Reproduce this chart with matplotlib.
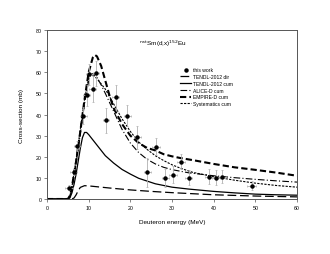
import numpy as np
import matplotlib
matplotlib.use("Agg")
import matplotlib.pyplot as plt
from matplotlib.lines import Line2D

plt.rcParams["font.family"] = ["Liberation Sans", "DejaVu Sans"]

# measured points (this work)
e_exp = [5.3, 6.4, 7.2, 8.7, 9.5, 10.2, 11.0, 11.8, 14.2, 16.5, 19.3,
         21.7, 24.1, 26.2, 28.4, 30.3, 32.2, 34.0, 39.0, 40.6, 41.9, 49.1]
s_exp = [5.4, 12.8, 25.0, 39.5, 49.0, 59.0, 52.0, 59.5, 37.2, 48.2, 39.5,
         29.2, 12.6, 24.8, 9.8, 11.5, 17.6, 10.0, 10.6, 10.1, 10.6, 6.3]
ds_exp = [1.0, 1.5, 2.5, 4.0, 5.0, 5.0, 6.0, 6.0, 6.0, 6.0, 5.0,
          5.5, 7.0, 4.0, 4.2, 4.0, 3.5, 3.5, 3.4, 3.4, 3.0, 2.0]
de_exp = [0.9, 0.8, 0.8, 0.8, 0.8, 0.8, 0.8, 0.8, 0.8, 0.8, 0.9,
          0.9, 0.9, 0.9, 0.9, 0.9, 0.9, 0.9, 1.0, 1.0, 1.0, 1.0]

# model curves
e_tdir = [0, 5, 6, 6.5, 7, 7.5, 8, 9, 10, 12, 15, 20, 25, 30, 35, 40, 45, 50, 55, 60]
s_tdir = [0, 0, 0, 0.5, 2.0, 4.0, 5.5, 6.3, 6.2, 5.8, 5.2, 4.3, 3.6, 3.0, 2.5, 2.0, 1.7, 1.4, 1.2, 1.0]

e_tcum = [0, 5, 5.5, 6, 6.5, 7, 7.5, 8, 8.5, 9, 9.5, 10, 11, 12, 14, 16, 18, 20, 22,
          26, 30, 34, 40, 45, 50, 55, 60]
s_tcum = [0, 0, 0.5, 3.0, 7.0, 12.0, 18.0, 24.0, 29.0, 31.5, 31.5, 30.5, 28.0, 25.5,
          20.5, 17.0, 14.0, 11.8, 9.8, 7.2, 5.6, 4.7, 3.6, 2.9, 2.3, 2.0, 1.8]

e_alice = [0, 5, 5.5, 6, 7, 8, 9, 10, 10.5, 11, 12, 13, 14, 16, 18, 20, 22, 24, 26,
           28, 30, 34, 40, 45, 50, 55, 60]
s_alice = [0, 0, 1.0, 5.0, 17.0, 31.0, 45.0, 56.0, 59.0, 59.3, 57.5, 54.0, 50.0,
           41.5, 33.0, 26.5, 22.0, 18.8, 16.6, 15.0, 13.9, 12.4, 11.0, 10.1, 9.3, 8.6, 8.0]

e_emp = [0, 5, 5.5, 6, 7, 8, 9, 10, 11, 11.5, 12, 13, 14, 15, 16, 18, 20, 22, 24,
         26, 28, 30, 32, 35, 40, 45, 50, 55, 60]
s_emp = [0, 0, 1.5, 6.0, 18.0, 32.0, 47.0, 60.0, 67.0, 68.2, 67.5, 63.0, 56.0, 49.0,
         43.0, 35.5, 30.0, 26.5, 24.2, 23.0, 21.2, 20.2, 19.4, 18.4, 16.6, 15.0, 13.8, 12.5, 11.0]

e_sys = [0, 5, 5.5, 6, 7, 8, 9, 10, 10.5, 11, 12, 14, 16, 18, 20, 22, 24, 26, 28,
         30, 32, 35, 40, 45, 50, 55, 60]
s_sys = [0, 0, 1.5, 6.0, 19.0, 33.0, 47.0, 57.0, 58.7, 58.5, 57.0, 52.0, 45.0, 38.0,
         32.0, 27.0, 23.5, 20.5, 18.2, 16.2, 14.6, 12.6, 10.6, 8.9, 7.5, 6.4, 5.6]

fig = plt.figure(figsize=(3.3, 2.55), dpi=100)
ax = fig.add_axes([0.1424, 0.2157, 0.7576, 0.6627])

ax.errorbar(e_exp, s_exp, yerr=ds_exp, xerr=de_exp, fmt="o", ms=2.2,
            color="black", ecolor="#b0b0b0", elinewidth=0.6, capsize=0.8,
            capthick=0.5, zorder=5)
h_exp = Line2D([], [], ls="none", marker="o", ms=2.2, color="black", label="this work")
ax.plot(e_tdir, s_tdir, color="black", lw=0.9, dashes=(7, 3), label="TENDL-2012 dir")
ax.plot(e_tcum, s_tcum, color="black", lw=0.9, label="TENDL-2012 cum")
ax.plot(e_alice, s_alice, color="black", lw=0.8, dashes=(6, 2, 1, 2), label="ALICE-D cum")
ax.plot(e_emp, s_emp, color="black", lw=1.5, dashes=(3, 1.5), label="EMPIRE-D cum")
ax.plot(e_sys, s_sys, color="black", lw=0.8, dashes=(2, 1.2), label="Systematics cum")

ax.set_xlim(0, 60)
ax.set_ylim(0, 80)
ax.set_xticks(np.arange(0, 61, 10))
ax.set_yticks(np.arange(0, 81, 10))
ax.tick_params(labelsize=3.8, length=2, width=0.5, color="#555555", pad=2)
for s in ax.spines.values():
    s.set_linewidth(0.7)
    s.set_color("#555555")

ax.set_xlabel("Deuteron energy (MeV)", fontsize=4.6, labelpad=7)
ax.set_ylabel("Cross-section (mb)", fontsize=4.6, labelpad=8)
ax.text(0.37, 0.925, r"$^{\mathrm{nat}}$Sm(d,x)$^{152}$Eu", transform=ax.transAxes,
        fontsize=4.6, ha="left", va="center")

handles, labels = ax.get_legend_handles_labels()
ax.legend([h_exp] + handles, ["this work"] + labels,
          loc="upper left", bbox_to_anchor=(0.52, 0.80), frameon=False, fontsize=3.6,
          handlelength=2.2, labelspacing=0.35, handletextpad=0.3, borderpad=0.2)

fig.savefig("out.png", dpi=100)
